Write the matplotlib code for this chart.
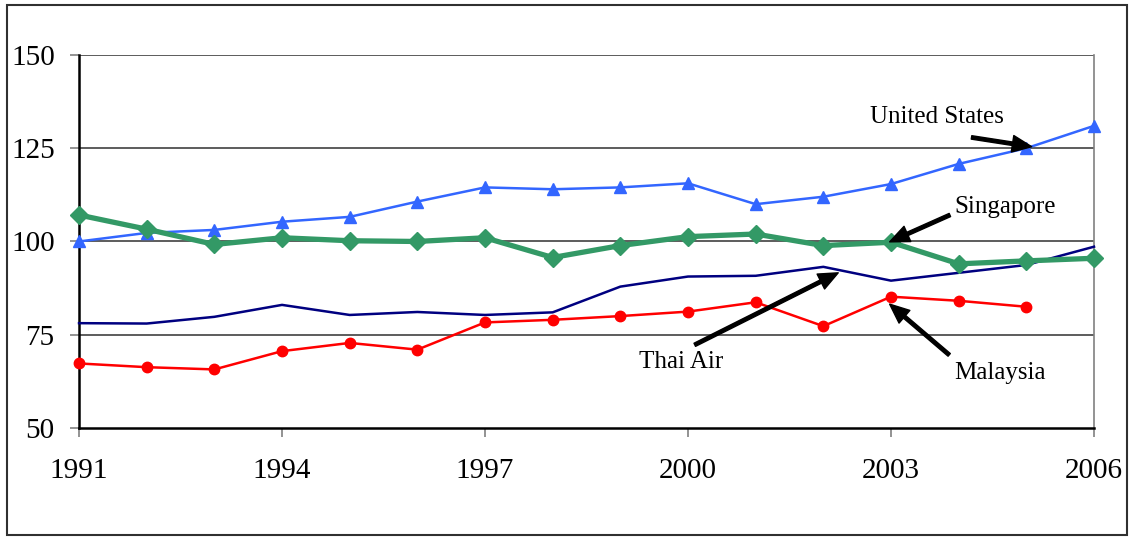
import matplotlib.pyplot as plt
from matplotlib.patches import Rectangle

years = list(range(1991, 2007))
us = [100, 102.3, 103.1, 105.3, 106.6, 110.7, 114.5, 114.0, 114.5, 115.6,
      110.0, 112.0, 115.4, 120.8, 125.0, 131.0]
singapore = [107.1, 103.3, 99.2, 101.0, 100.2, 100.0, 101.0, 95.7, 98.9, 101.3,
             102.0, 98.9, 99.8, 94.0, 94.8, 95.5]
thai = [78.1, 78.0, 79.8, 83.0, 80.3, 81.1, 80.3, 81.0, 87.9, 90.6,
        90.8, 93.2, 89.5, 91.6, 93.7, 98.6]
malaysia = [67.3, 66.3, 65.7, 70.6, 72.8, 71.0, 78.3, 79.0, 80.0, 81.2,
            83.7, 77.3, 85.2, 84.1, 82.5]
xticks = [1991, 1994, 1997, 2000, 2003, 2006]
yticks = [50, 75, 100, 125, 150]

plt.rcParams['font.family'] = ['Liberation Serif', 'DejaVu Serif']

fig = plt.figure(figsize=(11.29, 5.38), dpi=100)
ax = fig.add_axes([0.070, 0.2045, 0.899, 0.6933])

for y in yticks[1:]:
    ax.axhline(y, color='#303030', lw=1.1, zorder=1)

ax.plot(years, thai, color='#000080', lw=1.8, zorder=3, clip_on=False)
ax.plot(years[:len(malaysia)], malaysia, color='#ff0000', lw=1.8,
        marker='o', ms=7.5, zorder=3, clip_on=False)
ax.plot(years, us, color='#3366ff', lw=1.8, marker='^', ms=8, zorder=3, clip_on=False)
ax.plot(years, singapore, color='#339966', lw=3.8, marker='D', ms=9, zorder=4, clip_on=False)

ax.set_xlim(1991, 2006)
ax.set_ylim(50, 150)
ax.set_xticks(xticks)
ax.set_yticks(yticks)
ax.tick_params(axis='both', labelsize=21, color='#808080', length=6.5, width=1.2)
ax.tick_params(axis='x', pad=15)
ax.tick_params(axis='y', pad=11)
ax.spines['top'].set_visible(False)
ax.spines['left'].set_linewidth(1.8)
ax.spines['bottom'].set_linewidth(1.8)
ax.spines['right'].set_color('#808080')
ax.spines['right'].set_linewidth(1.2)

arrow = dict(facecolor='black', edgecolor='black', width=2.5, headwidth=12,
             headlength=14, shrink=0)
ax.annotate('', xy=(2005.08, 125.4), xytext=(2004.19, 127.9), arrowprops=arrow, zorder=6)
ax.annotate('', xy=(2002.98, 99.9), xytext=(2003.87, 107.1), arrowprops=arrow, zorder=6)
ax.annotate('', xy=(2002.22, 91.6), xytext=(2000.10, 72.3), arrowprops=arrow, zorder=6)
ax.annotate('', xy=(2002.98, 83.2), xytext=(2003.86, 69.6), arrowprops=arrow, zorder=6)

ax.text(2003.68, 133.4, 'United States', fontsize=18, ha='center', va='center')
ax.text(2004.68, 109.2, 'Singapore', fontsize=18, ha='center', va='center')
ax.text(1999.90, 67.8, 'Thai Air', fontsize=18, ha='center', va='center')
ax.text(2004.61, 64.8, 'Malaysia', fontsize=18, ha='center', va='center')

fig.patches.append(Rectangle((7 / 1129, 3 / 538), 1120 / 1129, 530 / 538,
                             transform=fig.transFigure, fill=False,
                             edgecolor='#303030', lw=1.5))

fig.savefig('out.png', dpi=100)
